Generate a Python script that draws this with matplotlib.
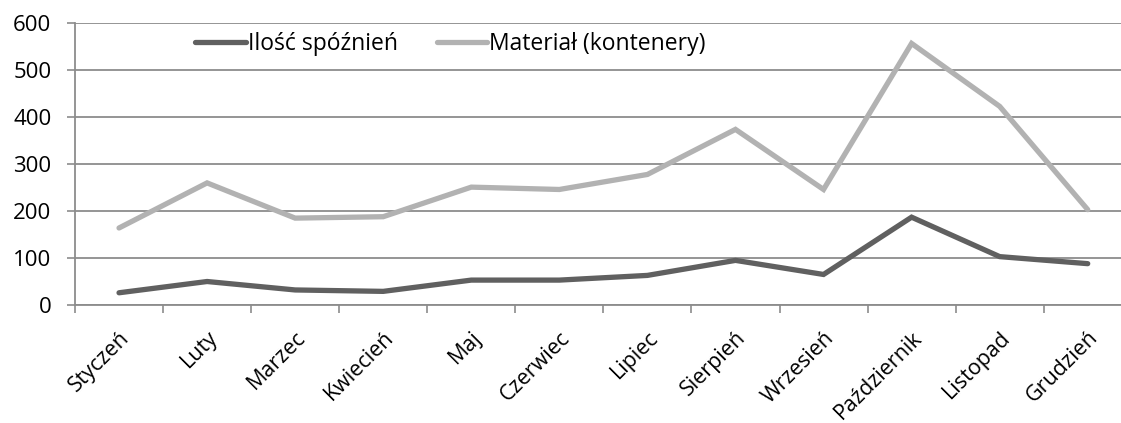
import numpy as np
import matplotlib.pyplot as plt
from matplotlib.ticker import FixedLocator

plt.rcParams['font.family'] = ['Open Sans', 'DejaVu Sans']

months = ['Styczeń', 'Luty', 'Marzec', 'Kwiecień', 'Maj', 'Czerwiec',
          'Lipiec', 'Sierpień', 'Wrzesień', 'Październik', 'Listopad', 'Grudzień']
delays = [26, 50, 32, 29, 53, 53, 63, 95, 65, 187, 103, 88]
material = [164, 260, 185, 188, 251, 246, 278, 374, 246, 557, 423, 203]

fig = plt.figure(figsize=(11.21, 4.23), dpi=100)
# plot area runs a little past the right edge, like the source export
ax = fig.add_axes([0.0669, 0.279, 0.9427, 0.666])

x = np.arange(len(months))
ax.plot(x, delays, color='#606060', lw=3.8, solid_joinstyle='miter',
        solid_capstyle='round', label='Ilość spóźnień')
ax.plot(x, material, color='#b2b2b2', lw=3.8, solid_joinstyle='miter',
        solid_capstyle='round', label='Materiał (kontenery)')

ax.set_xlim(-0.5, len(months) - 0.5)
ax.set_ylim(0, 600)
ax.set_yticks(range(0, 601, 100))
ax.yaxis.grid(True, color='#8c8c8c', lw=1.3)
ax.set_axisbelow(True)

# category labels at centres, tick marks on the boundaries
ax.set_xticks(x)
ax.set_xticklabels(months, rotation=45, ha='right', rotation_mode='anchor')
ax.xaxis.set_minor_locator(FixedLocator(np.arange(-0.5, len(months), 1)))
ax.tick_params(axis='x', which='major', length=0, pad=16, labelsize=15.5)
ax.tick_params(axis='x', which='minor', length=6, width=1.2, color='#8c8c8c')
ax.tick_params(axis='y', length=6, width=1.2, color='#8c8c8c', pad=11,
               labelsize=16)

for s in ['top', 'right']:
    ax.spines[s].set_visible(False)
for s in ['left', 'bottom']:
    ax.spines[s].set_color('#8c8c8c')
    ax.spines[s].set_linewidth(1.3)

ax.legend(loc='center left', bbox_to_anchor=(0.105, 0.925), ncol=2,
          frameon=False, fontsize=16.5, handlelength=2.2, handletextpad=0.1,
          columnspacing=1.7, borderaxespad=0)

plt.savefig('out.png', dpi=100)
